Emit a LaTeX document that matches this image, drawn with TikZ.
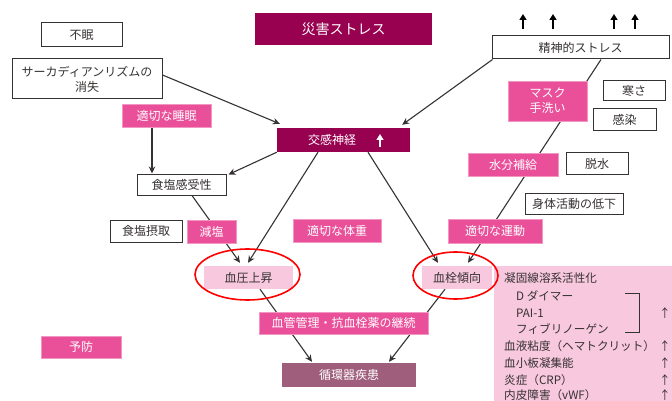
\documentclass[tikz,border=0pt]{standalone}
\usepackage{fontspec}
\setmainfont{Noto Sans CJK JP}
\usetikzlibrary{arrows.meta}
\pgfdeclarelayer{bg}
\pgfsetlayers{bg,main}
\definecolor{dmag}{RGB}{152,0,80}
\definecolor{pnk}{RGB}{234,80,154}
\definecolor{lpnk}{RGB}{247,200,222}
\definecolor{mauve}{RGB}{158,94,124}
\definecolor{dgray}{RGB}{55,50,50}
\begin{document}
\begin{tikzpicture}[x=1pt,y=-1pt,
  box/.style={inner sep=0pt, align=center, font=\fontsize{12}{15}\selectfont},
  wbox/.style={box, draw=dgray, line width=1pt, fill=white, text=dgray},
  pbox/.style={box, fill=pnk, draw=pnk!60!white, line width=0.4pt, text=white},
  dbox/.style={box, fill=dmag, text=white},
  lbox/.style={box, fill=lpnk, text=dgray},
  mbox/.style={box, fill=mauve, text=white},
  ptext/.style={inner sep=0pt, anchor=west, text=dgray, font=\fontsize{11.6}{15}\selectfont},
  parr/.style={inner sep=0pt, text=dgray, font=\fontsize{11.6}{15}\selectfont},
  arr/.style={draw=dgray, line width=1.1pt, -{Stealth[length=7pt,width=6.5pt]}},
  uparr/.style={line width=2pt, -{Triangle[length=6pt,width=7pt]}},
  ring/.style={draw=red, line width=1.6pt},
]
\useasboundingbox (0,0) rectangle (672,401);
\clip (0,0) rectangle (672,401);

% right panel
\node[lbox, minimum width=178pt, minimum height=140pt, anchor=north west] (panel) at (494,266) {};

% boxes
\node[dbox, minimum width=177pt, minimum height=32pt, font=\fontsize{14}{16}\selectfont] (saigai) at (343.5,29) {災害ストレス};
\node[wbox, minimum width=81pt, minimum height=24pt] (fumin) at (81.5,35) {不眠};
\node[wbox, minimum width=150pt, minimum height=40pt] (circ) at (87,79) {サーカディアンリズムの\\消失};
\node[pbox, minimum width=89pt, minimum height=23pt] (suimin) at (166.5,115.5) {適切な睡眠};
\node[dbox, minimum width=133pt, minimum height=24pt] (kokan) at (343.5,140) {};
\node[inner sep=0pt, text=white, font=\fontsize{12}{15}\selectfont] (kokant) at (332,140) {交感神経};
\node[wbox, minimum width=89pt, minimum height=21pt] (ks) at (181.5,184.5) {食塩感受性};
\node[wbox, minimum width=177pt, minimum height=23pt] (seishin) at (580.5,47.5) {精神的ストレス};
\node[pbox, minimum width=79pt, minimum height=40pt] (mask) at (547.5,101) {マスク\\手洗い};
\node[wbox, minimum width=62pt, minimum height=20pt] (samusa) at (634,91) {寒さ};
\node[wbox, minimum width=63pt, minimum height=22pt] (kansen) at (624.5,120) {感染};
\node[pbox, minimum width=90pt, minimum height=23pt] (suibun) at (513,164.5) {水分補給};
\node[wbox, minimum width=62pt, minimum height=21pt] (dassui) at (597,163.5) {脱水};
\node[wbox, minimum width=98pt, minimum height=21pt] (shintai) at (574,203.5) {身体活動の低下};
\node[wbox, minimum width=72pt, minimum height=22pt] (shokuen) at (146,231) {食塩摂取};
\node[pbox, minimum width=49pt, minimum height=23pt] (genen) at (211.5,231.5) {減塩};
\node[pbox, minimum width=88pt, minimum height=23pt] (taiju) at (337,230.5) {適切な体重};
\node[pbox, minimum width=94pt, minimum height=24pt] (undo) at (495,231) {適切な運動};
\node[lbox, minimum width=89pt, minimum height=23pt] (bp) at (248.5,277.5) {血圧上昇};
\node[lbox, minimum width=70pt, minimum height=23pt] (thr) at (457,277.5) {血栓傾向};
\node[pbox, minimum width=80pt, minimum height=22pt] (yobo) at (81,347) {予防};
\node[pbox, minimum width=169pt, minimum height=22pt] (kekkan) at (343.5,323) {血管管理・抗血栓薬の継続};
\node[mbox, minimum width=134pt, minimum height=24pt] (junkan) at (349,375) {循環器疾患};

% rings
\draw[ring] (247.5,274.5) ellipse [x radius=52.5pt, y radius=25.5pt];
\draw[ring] (455.5,275.5) ellipse [x radius=42.5pt, y radius=23.5pt];

% panel text
\node[ptext] (p1) at (504,278) {凝固線溶系活性化};
\node[ptext] (p2) at (516,296) {D ダイマー};
\node[ptext] (p3) at (516,313) {PAI-1};
\node[ptext] (p4) at (516,329) {フィブリノーゲン};
\node[ptext] (p5) at (504,346) {血液粘度（ヘマトクリット）};
\node[ptext] (p6) at (504,363) {血小板凝集能};
\node[ptext] (p7) at (504,380) {炎症（CRP）};
\node[ptext] (p8) at (504,395) {内皮障害（vWF）};
\node[parr] (u3) at (665,313) {↑};
\node[parr] (u5) at (665,346) {↑};
\node[parr] (u6) at (665,363) {↑};
\node[parr] (u7) at (665,380) {↑};
\node[parr] (u8) at (665,395) {↑};
\draw[dgray, line width=1pt] (625,293) -- (639,293) -- (639,332) -- (625,332);

% symbol arrows
\foreach \x in {523,553,614,635} \draw[uparr, black] (\x,29) -- (\x,14);
\draw[uparr, white] (380,147) -- (380,134);

% connectors (under boxes)
\begin{pgfonlayer}{bg}
\draw[arr] ([yshift=4pt]circ.east) -- ([xshift=3pt,yshift=4pt]kokan.north west);
\draw[arr] ([xshift=1pt]seishin.south west) -- ([xshift=-8pt,yshift=3pt]kokan.north east);
\draw[arr] ([xshift=-14.5pt]suimin.south) -- ([xshift=-29.5pt]ks.north);
\draw[arr] (kokan.south west) -- ([xshift=2pt,yshift=-1pt]ks.north east);
\draw[arr] ([xshift=10.5pt]ks.south) -- ([xshift=-8.5pt,yshift=3pt]bp.north);
\draw[arr] ([xshift=-25.5pt]kokan.south) -- ([xshift=-0.5pt,yshift=3pt]bp.north);
\draw[arr] ([xshift=24.5pt]kokan.south) -- ([xshift=-19pt,yshift=3pt]thr.north);
\draw[arr] ([xshift=20.5pt]seishin.south) -- ([xshift=11pt,yshift=3pt]thr.north);
\draw[arr] ([xshift=11.5pt]bp.south) -- ([xshift=-37pt,yshift=1pt]junkan.north);
\draw[arr] ([xshift=-12pt]thr.south) -- ([xshift=40pt,yshift=1pt]junkan.north);
\end{pgfonlayer}
\end{tikzpicture}
\end{document}
